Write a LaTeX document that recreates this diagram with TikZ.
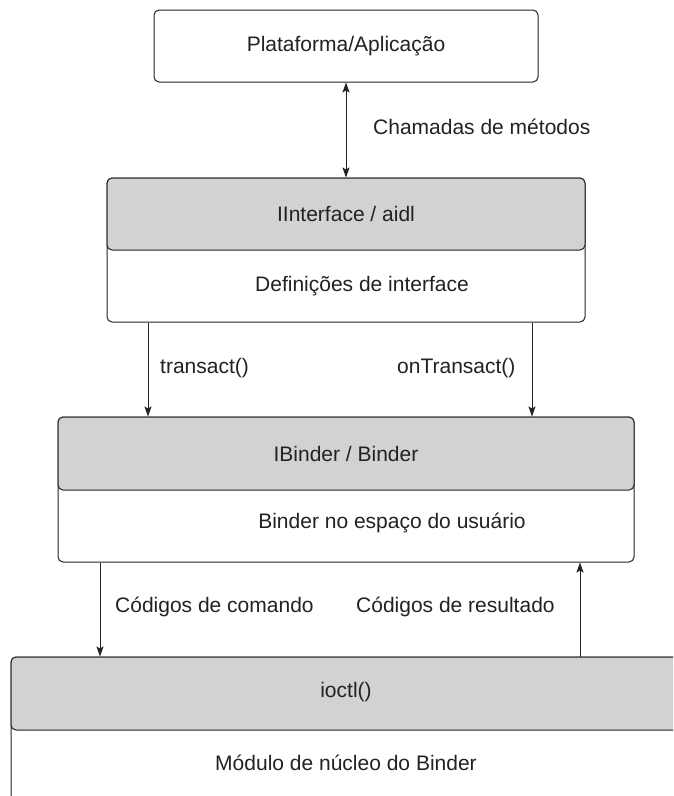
\documentclass[tikz,border=0pt]{standalone}
\usepackage{fontspec}
\setmainfont{Liberation Sans}
\usetikzlibrary{arrows.meta}
\definecolor{hdrgray}{HTML}{D1D2D4}
\definecolor{lncol}{HTML}{222222}
\begin{document}
\begin{tikzpicture}[x=1pt,y=-1pt,
  font=\fontsize{21}{25}\selectfont,
  box/.style={draw=lncol, line width=1pt, rounded corners=5pt, inner sep=0pt, fill=white},
  hdrbox/.style={box, fill=hdrgray},
  lbl/.style={inner sep=0pt, anchor=west, text=lncol},
  txt/.style={inner sep=0pt, text=lncol},
  arr/.style={draw=lncol, line width=1pt, -{Stealth[length=10pt,width=7pt,inset=2pt]}},
  dblarr/.style={draw=lncol, line width=1pt, {Stealth[length=10pt,width=7pt,inset=2pt]}-{Stealth[length=10pt,width=7pt,inset=2pt]}}
]
\useasboundingbox (0,0) rectangle (673,796);
\clip (0,0) rectangle (673,796);
\fill[white] (0,0) rectangle (673,796);

% top box
\node[box, minimum width=384pt, minimum height=72pt, text=lncol] (plat) at (346,46) {Plataforma/Aplicação};

% interface box
\node[box, minimum width=478pt, minimum height=144pt] (iface) at (346,250) {};
\node[hdrbox, minimum width=478pt, minimum height=72pt, text=lncol] (ifaceh) at (346,214) {IInterface / aidl};
\node[txt] (ifacet) at (362,286) {Definições de interface};

% binder box
\node[box, minimum width=576pt, minimum height=145pt] (binder) at (346,489.5) {};
\node[hdrbox, minimum width=576pt, minimum height=73pt, text=lncol] (binderh) at (346,453.5) {IBinder / Binder};
\node[txt] (bindert) at (392,523) {Binder no espaço do usuário};

% kernel box (cut off by the page)
\node[box, minimum width=789pt, minimum height=173pt] (kernel) at (405.5,743.5) {};
\node[hdrbox, minimum width=789pt, minimum height=73pt] (kernelh) at (405.5,693.5) {};
\node[txt] (kernelht) at (346,692) {ioctl()};
\node[txt] (kernelt) at (346,763) {Módulo de núcleo do Binder};

% connectors
\draw[dblarr] (plat.south) -- (ifaceh.north);
\node[lbl] (lchamadas) at (373,127) {Chamadas de métodos};

\draw[arr] ([xshift=-198pt]iface.south) coordinate (a1) -- (a1 |- binderh.north);
\draw[arr] ([xshift=186pt]iface.south) coordinate (a2) -- (a2 |- binderh.north);
\node[lbl] (ltransact) at (160,368) {transact()};
\node[lbl] (lontransact) at (397,368) {onTransact()};

\draw[arr] ([xshift=-246pt]binder.south) coordinate (b1) -- (b1 |- kernelh.north);
\draw[arr] ([xshift=234pt]binder.south |- kernelh.north) coordinate (b2) -- (b2 |- binder.south);
\node[lbl] (lcomando) at (115,607) {Códigos de comando};
\node[lbl] (lresultado) at (356,607) {Códigos de resultado};
\end{tikzpicture}
\end{document}
